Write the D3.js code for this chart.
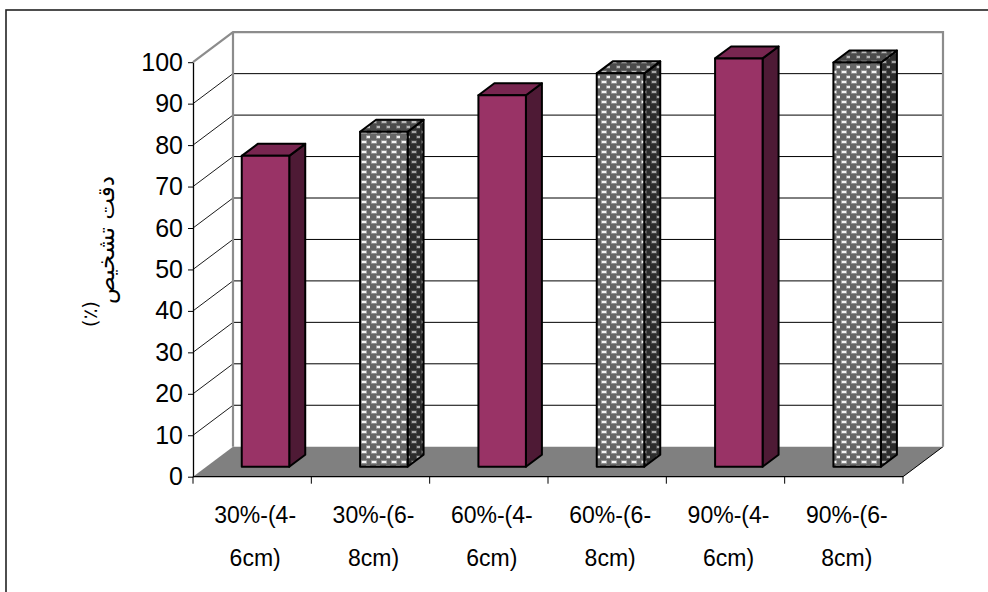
<!DOCTYPE html>
<html><head><meta charset="utf-8">
<script src="https://cdn.jsdelivr.net/npm/d3@7"></script>
<style>
html,body{margin:0;padding:0;background:#fff;}
svg{display:block;}
</style></head>
<body>
<svg id="chart" width="988" height="592"></svg>
<script>
// ---- data ----
const categories = ["30%-(4-6cm)", "30%-(6-8cm)", "60%-(4-6cm)", "60%-(6-8cm)", "90%-(4-6cm)", "90%-(6-8cm)"];
const values = [75, 80.8, 89.6, 94.9, 98.5, 97.5];
const seriesType = ["solid", "pattern", "solid", "pattern", "solid", "pattern"];
const yTicks = [0, 10, 20, 30, 40, 50, 60, 70, 80, 90, 100];
const yTitleLines = ["(٪)", "دقت تشخیص"];

// ---- layout ----
const svg = d3.select("#chart");
const X0 = 193, X1 = 903, Y0 = 476.7, Y100 = 62.2;
const DX = 40, DY = -30;               // wall depth
const barW = 47.5;
const f1 = 1/3, f2 = 0.733;           // bar depth range as fraction of depth

const x = d3.scaleBand().domain(categories).range([X0, X1]).paddingInner(0).paddingOuter(0);
const y = d3.scaleLinear().domain([0, 100]).range([Y0, Y100]);

// patterns
const defs = svg.append("defs");
function makePattern(id, bg, halo, dot) {
  const p = defs.append("pattern").attr("id", id).attr("patternUnits", "userSpaceOnUse")
    .attr("width", 10).attr("height", 10);
  p.append("rect").attr("width", 10).attr("height", 10).attr("fill", bg);
  [[2, 1], [7, 6]].forEach(([a, b]) => {
    p.append("rect").attr("x", a - 1).attr("y", b - 0.6).attr("width", 6).attr("height", 3.2).attr("fill", halo);
    p.append("rect").attr("x", a).attr("y", b).attr("width", 4).attr("height", 2).attr("fill", dot);
  });
  p.append("rect").attr("x", -3).attr("y", 5.4).attr("width", 2).attr("height", 3.2).attr("fill", halo);
  p.append("rect").attr("x", -3).attr("y", 6).attr("width", 1).attr("height", 2).attr("fill", dot);
}
makePattern("patFront", "#666666", "#a8a8a8", "#f4f4f4");
makePattern("patTop", "#4a4a4a", "#777777", "#b8b8b8");
makePattern("patSide", "#2c2c2c", "#555555", "#a6a6a6");

// outer border
svg.append("rect").attr("x", 6).attr("y", 10).attr("width", 1100).attr("height", 700)
  .attr("fill", "none").attr("stroke", "#222").attr("stroke-width", 1.6);

// back wall gridlines + side wall lines
const g = svg.append("g");
yTicks.filter(v => v > 0 && v < 100).forEach(v => {
  g.append("line").attr("x1", X0 + DX).attr("x2", X1 + DX).attr("y1", y(v) + DY).attr("y2", y(v) + DY)
    .attr("stroke", "#000").attr("stroke-width", 1);
  g.append("line").attr("x1", X0).attr("x2", X0 + DX).attr("y1", y(v)).attr("y2", y(v) + DY)
    .attr("stroke", "#000").attr("stroke-width", 0.9);
});

// floor
g.append("polygon")
  .attr("points", [[X0, y(0)], [X0 + DX, y(0) + DY], [X1 + DX, y(0) + DY], [X1, y(0)]].map(p => p.join(",")).join(" "))
  .attr("fill", "#808080");
g.append("line").attr("x1", X1).attr("y1", y(0)).attr("x2", X1 + DX).attr("y2", y(0) + DY)
  .attr("stroke", "#000").attr("stroke-width", 1);

// wall edges (grey)
const grey = "#8c8c8c";
g.append("path")
  .attr("d", `M${X0},${y(100)} L${X0 + DX},${y(100) + DY} L${X1 + DX},${y(100) + DY} L${X1 + DX},${y(0) + DY}`)
  .attr("fill", "none").attr("stroke", grey).attr("stroke-width", 2.2);
g.append("line").attr("x1", X0 + DX).attr("x2", X0 + DX).attr("y1", y(100) + DY).attr("y2", y(0) + DY)
  .attr("stroke", grey).attr("stroke-width", 2.2);

// bars
const bars = svg.append("g");
categories.forEach((c, i) => {
  const v = values[i];
  const cx = x(c) + x.bandwidth() / 2;
  const ax = DX * f1, ay = DY * f1;
  const bx = DX * (f2 - f1), by = DY * (f2 - f1);
  const left = cx - barW / 2 + ax, right = cx + barW / 2 + ax;
  const top = y(v) + ay, bottom = y(0) + ay;
  const solid = seriesType[i] === "solid";
  const fillFront = solid ? "#993366" : "url(#patFront)";
  const fillTop = solid ? "#782650" : "url(#patTop)";
  const fillSide = solid ? "#4e1a35" : "url(#patSide)";
  const poly = (pts, fill) => bars.append("polygon").attr("points", pts.map(q => q.join(",")).join(" "))
    .attr("fill", fill).attr("stroke", "#000").attr("stroke-width", 2).attr("stroke-linejoin", "round");
  poly([[right, bottom], [right + bx, bottom + by], [right + bx, top + by], [right, top]], fillSide);
  poly([[left, top], [left + bx, top + by], [right + bx, top + by], [right, top]], fillTop);
  poly([[left, top], [right, top], [right, bottom], [left, bottom]], fillFront);
});

// y axis
const yAxis = d3.axisLeft(y).tickValues(yTicks).tickSize(5).tickSizeOuter(0).tickPadding(5);
const ya = svg.append("g").attr("transform", `translate(${X0},0)`).call(yAxis);
ya.select(".domain").attr("stroke", "#000").attr("stroke-width", 1.3);
ya.selectAll(".tick line").attr("stroke", "#000").attr("stroke-width", 1);
ya.selectAll(".tick text").attr("font-family", "'Liberation Sans', Arial, sans-serif")
  .attr("font-size", 25).attr("fill", "#000");

// x axis line + boundary ticks
svg.append("line").attr("x1", X0).attr("x2", X1).attr("y1", y(0)).attr("y2", y(0))
  .attr("stroke", "#000").attr("stroke-width", 1.3);
d3.range(categories.length + 1).forEach(k => {
  const xx = X0 + k * x.step();
  svg.append("line").attr("x1", xx).attr("x2", xx).attr("y1", y(0)).attr("y2", y(0) + 7)
    .attr("stroke", "#000").attr("stroke-width", 1);
});

// x labels (two lines)
categories.forEach(c => {
  const cut = c.indexOf("(") + 3;
  const lines = [c.slice(0, cut), c.slice(cut)];
  const cx = x(c) + x.bandwidth() / 2 + 3;
  lines.forEach((t, j) => {
    svg.append("text").attr("x", cx).attr("y", 523 + j * 43).attr("text-anchor", "middle")
      .attr("font-family", "'Liberation Sans', Arial, sans-serif").attr("font-size", 23)
      .attr("fill", "#000").text(t);
  });
});

// y title (rotated)
svg.append("text").attr("transform", "translate(97,314) rotate(-90)").attr("text-anchor", "middle")
  .attr("font-family", "'DejaVu Sans', sans-serif").attr("font-size", 20).attr("fill", "#000").text(yTitleLines[0]);
svg.append("text").attr("transform", "translate(114,240) rotate(-90)").attr("text-anchor", "middle")
  .attr("direction", "rtl")
  .attr("font-family", "'DejaVu Sans', sans-serif").attr("font-size", 23).attr("fill", "#000").text(yTitleLines[1]);
</script>
</body></html>
